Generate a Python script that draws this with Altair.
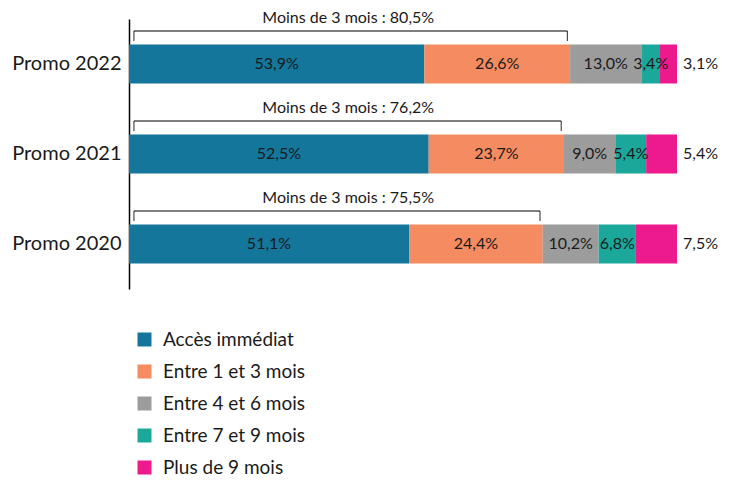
import altair as alt
import pandas as pd

promos = ["Promo 2022", "Promo 2021", "Promo 2020"]
categories = ["Accès immédiat", "Entre 1 et 3 mois", "Entre 4 et 6 mois",
              "Entre 7 et 9 mois", "Plus de 9 mois"]
colors = ["#14769A", "#F58B61", "#9C9C9C", "#1BA89A", "#EC1A8C"]
v2022 = [53.9, 26.6, 13.0, 3.4, 3.1]
v2021 = [52.5, 23.7, 9.0, 5.4, 5.4]
v2020 = [51.1, 24.4, 10.2, 6.8, 7.5]
under3 = [80.5, 76.2, 75.5]

FONT = "Lato"
INK = "#1a1a1a"


def fr(v):
    return f"{v:.1f}".replace(".", ",") + "%"


rows = []
brackets = []
for promo, vals, u3 in zip(promos, [v2022, v2021, v2020], under3):
    total = sum(vals)
    cum = 0.0
    for i, (cat, v) in enumerate(zip(categories, vals)):
        start = cum / total * 100
        cum += v
        end = cum / total * 100
        rows.append(dict(promo=promo, cat=cat, start=start, end=end,
                         mid=(start + end) / 2, label=fr(v),
                         last=(i == len(vals) - 1)))
    end3 = (vals[0] + vals[1]) / total * 100
    brackets.append(dict(promo=promo, b0=0.9, b1=end3 - 0.5, tx=40.0,
                         text="Moins de 3 mois : " + fr(u3)))

df = pd.DataFrame(rows)
bdf = pd.DataFrame(brackets)

yenc = alt.Y("promo:N", sort=promos,
             scale=alt.Scale(domain=promos, paddingInner=0, paddingOuter=0),
             axis=alt.Axis(title=None, ticks=False, grid=False,
                           domainColor="black", domainWidth=1.5,
                           labelFontSize=20, labelFont=FONT, labelColor=INK,
                           labelPadding=8))
xscale = alt.Scale(domain=[0, 100], nice=False, zero=True)

base = alt.Chart(df)
bars = base.mark_bar(size=39).encode(
    y=yenc,
    x=alt.X("start:Q", scale=xscale, axis=None),
    x2="end:Q",
    color=alt.Color("cat:N", sort=categories,
                    scale=alt.Scale(domain=categories, range=colors),
                    legend=alt.Legend(title=None, orient="none",
                                      legendX=6, legendY=311,
                                      direction="vertical",
                                      symbolType="square", symbolSize=196,
                                      symbolStrokeWidth=0,
                                      labelFontSize=19, labelFont=FONT,
                                      labelColor=INK, labelOffset=9,
                                      rowPadding=12, padding=0)),
)

inner = base.transform_filter("!datum.last").mark_text(
    fontSize=16, font=FONT, color=INK).encode(
    y=alt.Y("promo:N", sort=promos), x=alt.X("mid:Q"), text="label:N")

outer = base.transform_filter("datum.last").mark_text(
    fontSize=16, font=FONT, color=INK, align="left", dx=6).encode(
    y=alt.Y("promo:N", sort=promos), x=alt.X("end:Q"), text="label:N")

bbase = alt.Chart(bdf)
hline = bbase.mark_rule(yOffset=-33, strokeWidth=1.2, color="black").encode(
    y=alt.Y("promo:N", sort=promos), x="b0:Q", x2="b1:Q")
tick0 = bbase.mark_tick(orient="vertical", size=10, thickness=1.2,
                        yOffset=-28, color="black").encode(
    y=alt.Y("promo:N", sort=promos), x="b0:Q")
tick1 = bbase.mark_tick(orient="vertical", size=10, thickness=1.2,
                        yOffset=-28, color="black").encode(
    y=alt.Y("promo:N", sort=promos), x="b1:Q")
btext = bbase.mark_text(fontSize=16, font=FONT, color=INK, dy=-46).encode(
    y=alt.Y("promo:N", sort=promos), x="tx:Q", text="text:N")

chart = alt.layer(bars, inner, outer, hline, tick0, tick1, btext).properties(
    width=548, height=270, background="white",
    autosize=alt.AutoSizeParams(type="none"),
    padding={"left": 121, "top": 11, "right": 45, "bottom": 189},
).configure_view(stroke=None)

chart.save("out.html", embed_options={"renderer": "svg", "actions": False})
